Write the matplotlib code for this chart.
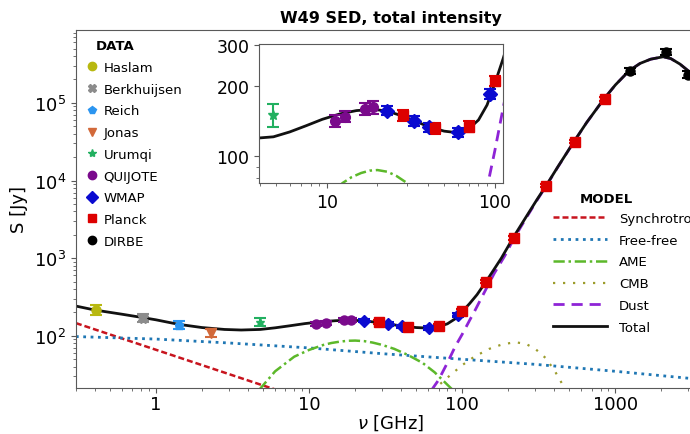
"""W49 spectral energy distribution, total intensity, with an inset zoom."""
import matplotlib

matplotlib.use("Agg")
import matplotlib.pyplot as plt
from matplotlib import ticker
from matplotlib.lines import Line2D

# ---------------- measured flux densities (GHz, Jy) ----------------
haslam_freq = [0.408]
haslam_flux = [216]
haslam_err = [33]

berk_freq = [0.82]
berk_flux = [172]
berk_err = [22]

reich_freq = [1.42]
reich_flux = [139]
reich_err = [15]

jonas_freq = [2.3]
jonas_flux = [110]
jonas_err = [13]

urumqi_freq = [4.8]
urumqi_flux = [151]
urumqi_err = [17]

quijote_freq = [11.1, 12.9, 16.8, 18.8]
quijote_flux = [142, 148, 160, 162]
quijote_err = [8, 8, 10, 10]

wmap_freq = [22.8, 33.0, 40.7, 60.7, 93.5]
wmap_flux = [157, 142, 133, 126.5, 186]
wmap_err = [7, 7, 6, 6, 9]

planck_freq = [28.4, 44.1, 70.4, 100, 143, 217, 353, 545, 857]
planck_flux = [150, 131.6, 134, 211, 500, 1825, 8590, 31600, 112000]
planck_err = [8, 7, 7, 11, 25, 90, 430, 1600, 5600]

dirbe_freq = [1249, 2141, 2998]
dirbe_flux = [259000, 448000, 231000]
dirbe_err = [26000, 40000, 23000]

# ---------------- model components ----------------
sync_freq = [0.3, 10.0]
sync_flux = [146, 14.6]

ff_freq = [0.3, 1, 3, 10, 30, 100, 300, 1000, 4000]
ff_flux = [98, 91, 81, 70, 59, 50, 43, 35, 27]

ame_freq = [4.7, 6, 8, 10, 12.4, 14, 16, 18, 20, 23, 26, 30, 36, 44, 55, 66, 87]
ame_flux = [20, 35, 54, 66, 76.5, 81, 84.5, 86.5, 87, 85.5, 82, 76.5, 68, 57, 45, 34, 20]

cmb_freq = [64, 70, 80, 100, 120, 150, 180, 220, 260, 300, 350, 400, 450, 480]
cmb_flux = [20, 23, 29, 42, 54, 68, 77, 83, 79, 68, 52, 36, 24, 19]

dust_freq = [63, 70, 80, 90, 100, 112, 120, 143, 162, 190, 217, 260, 309, 353,
             420, 536, 650, 841, 1000, 1230, 1450, 1700, 2050, 2300, 2640,
             3070, 3500, 3900]
dust_flux = [20, 27, 45, 73, 105, 160, 205, 400, 640, 1080, 1780, 3230, 5640,
             8470, 14800, 31500, 55900, 111900, 169900, 258900, 321900,
             364900, 391900, 371900, 315900, 247900, 189900, 144900]

tot_freq = [0.3, 0.4, 0.6, 0.82, 1.0, 1.4, 2.0, 2.8, 3.6, 4.8, 6.0, 7.5, 9.4,
            12, 15, 19, 23, 28, 34, 40, 50, 60, 70, 80, 90, 100, 112, 125,
            147, 180, 219, 260, 309, 353, 420, 536, 650, 841, 1000, 1230,
            1450, 1700, 2050, 2300, 2640, 3070, 3500, 3900]
tot_flux = [242, 215, 190, 172, 161, 141, 128, 121, 119, 121, 127, 135, 144,
            152, 157, 159, 156, 149, 141, 134, 128, 126, 131, 143, 166, 205,
            262, 340, 542, 1000, 1950, 3350, 5760, 8590, 14900, 31600, 56000,
            112000, 170000, 259000, 322000, 365000, 392000, 372000, 316000,
            248000, 190000, 145000]

# name, freq, flux, err, marker, colour
DATASETS = [
    ("Haslam", haslam_freq, haslam_flux, haslam_err, "o", "#b8b810"),
    ("Berkhuijsen", berk_freq, berk_flux, berk_err, "X", "#8c8c8c"),
    ("Reich", reich_freq, reich_flux, reich_err, "p", "#2b95f0"),
    ("Jonas", jonas_freq, jonas_flux, jonas_err, "v", "#d2693a"),
    ("Urumqi", urumqi_freq, urumqi_flux, urumqi_err, "*", "#22b060"),
    ("QUIJOTE", quijote_freq, quijote_flux, quijote_err, "o", "#7a0a8c"),
    ("WMAP", wmap_freq, wmap_flux, wmap_err, "D", "#0a0ad0"),
    ("Planck", planck_freq, planck_flux, planck_err, "s", "#dd0000"),
    ("DIRBE", dirbe_freq, dirbe_flux, dirbe_err, "o", "black"),
]

# label, freq, flux, colour, dash pattern, linewidth, shown in inset
MODELS = [
    ("Synchrotron", sync_freq, sync_flux, "#c8141e", (2.4, 1.2), 1.8, False),
    ("Free-free", ff_freq, ff_flux, "#1f77b4", (1, 1.65), 2.0, False),
    ("AME", ame_freq, ame_flux, "#5cb82a", (4.5, 1.5, 1, 1.5), 1.8, True),
    ("CMB", cmb_freq, cmb_flux, "#9c9c2c", (1, 3.5), 1.6, False),
    ("Dust", dust_freq, dust_flux, "#8e24d6", (4, 2.5), 2.0, True),
    ("Total", tot_freq, tot_flux, "#111111", None, 2.0, True),
]


def draw_components(ax, ms=6.5, inset=False):
    """Draw model curves and measured points on an axis."""
    handles = []
    for label, f, s, color, dashes, lw, in_inset in MODELS:
        if inset and not in_inset:
            continue
        line, = ax.plot(f, s, color=color, lw=lw, label=label, zorder=2)
        if dashes is not None:
            line.set_dashes(dashes)
        handles.append(line)

    for name, f, s, e, marker, color in DATASETS:
        ax.errorbar(f, s, yerr=e, fmt=marker, color=color, ms=ms,
                    elinewidth=1.5, capsize=4, capthick=1.5, zorder=3)
    return handles


def style_axis(ax):
    for sp in ax.spines.values():
        sp.set_color("0.35")
    ax.tick_params(which="both", colors="0.35", labelcolor="black")


fig = plt.figure(figsize=(6.9, 4.35), dpi=100)

# Main axes runs a little past the right edge, like the cropped original
ax = fig.add_axes([0.110, 0.106, 0.913, 0.823])
ax.set_xscale("log")
ax.set_yscale("log")
model_handles = draw_components(ax)
ax.set_xlim(0.3, 3900)
ax.set_ylim(21.4, 8.7e5)
ax.xaxis.set_major_formatter(ticker.FuncFormatter(lambda v, _: f"{v:g}"))
ax.tick_params(axis="both", which="major", labelsize=13)
ax.tick_params(axis="x", which="major", pad=1.5)
ax.set_xlabel(r"$\nu$ [GHz]", fontsize=13, labelpad=0)
ax.set_ylabel("S [Jy]", fontsize=13, labelpad=4)
ax.set_title("W49 SED, total intensity", fontsize=11.5, fontweight="bold", pad=6)
style_axis(ax)

# Data legend (markers only)
data_handles = [
    Line2D([], [], ls="none", marker=m, color=c, ms=6)
    for _, _, _, _, m, c in DATASETS
]
leg1 = ax.legend(data_handles, [d[0] for d in DATASETS], loc="upper left",
                 bbox_to_anchor=(85 / 690, 1 - 62 / 435),
                 bbox_transform=fig.transFigure, frameon=False, fontsize=9.5,
                 handlelength=1.0, handletextpad=0.4, labelspacing=0.66,
                 borderpad=0, borderaxespad=0)
ax.add_artist(leg1)
fig.text(96 / 690, 1 - 47 / 435, "DATA", fontsize=9.5, fontweight="bold",
         va="center", ha="left")

# Model legend
ax.legend(model_handles, [m[0] for m in MODELS], loc="upper left",
          bbox_to_anchor=(553 / 690, 1 - 213 / 435),
          bbox_transform=fig.transFigure, frameon=False, fontsize=9.5,
          handlelength=4.1, handletextpad=0.9, labelspacing=0.66,
          borderpad=0, borderaxespad=0)
fig.text(580 / 690, 1 - 200 / 435, "MODEL", fontsize=9.5, fontweight="bold",
         va="center", ha="left")

# Inset zoom on the low-frequency plateau
axin = fig.add_axes([0.3754, 0.577, 0.3536, 0.3195])
axin.set_xscale("log")
axin.set_yscale("log")
draw_components(axin, ms=7, inset=True)
axin.set_xlim(3.94, 112)
axin.set_ylim(76.5, 304)
axin.yaxis.set_major_locator(ticker.FixedLocator([100, 200, 300]))
axin.yaxis.set_major_formatter(ticker.FuncFormatter(lambda v, _: f"{v:g}"))
axin.yaxis.set_minor_formatter(ticker.NullFormatter())
axin.xaxis.set_major_formatter(ticker.FuncFormatter(lambda v, _: f"{v:g}"))
axin.xaxis.set_minor_formatter(ticker.NullFormatter())
axin.tick_params(axis="both", which="major", labelsize=12.5)
style_axis(axin)

plt.savefig("out.png", dpi=100)
plt.close()
